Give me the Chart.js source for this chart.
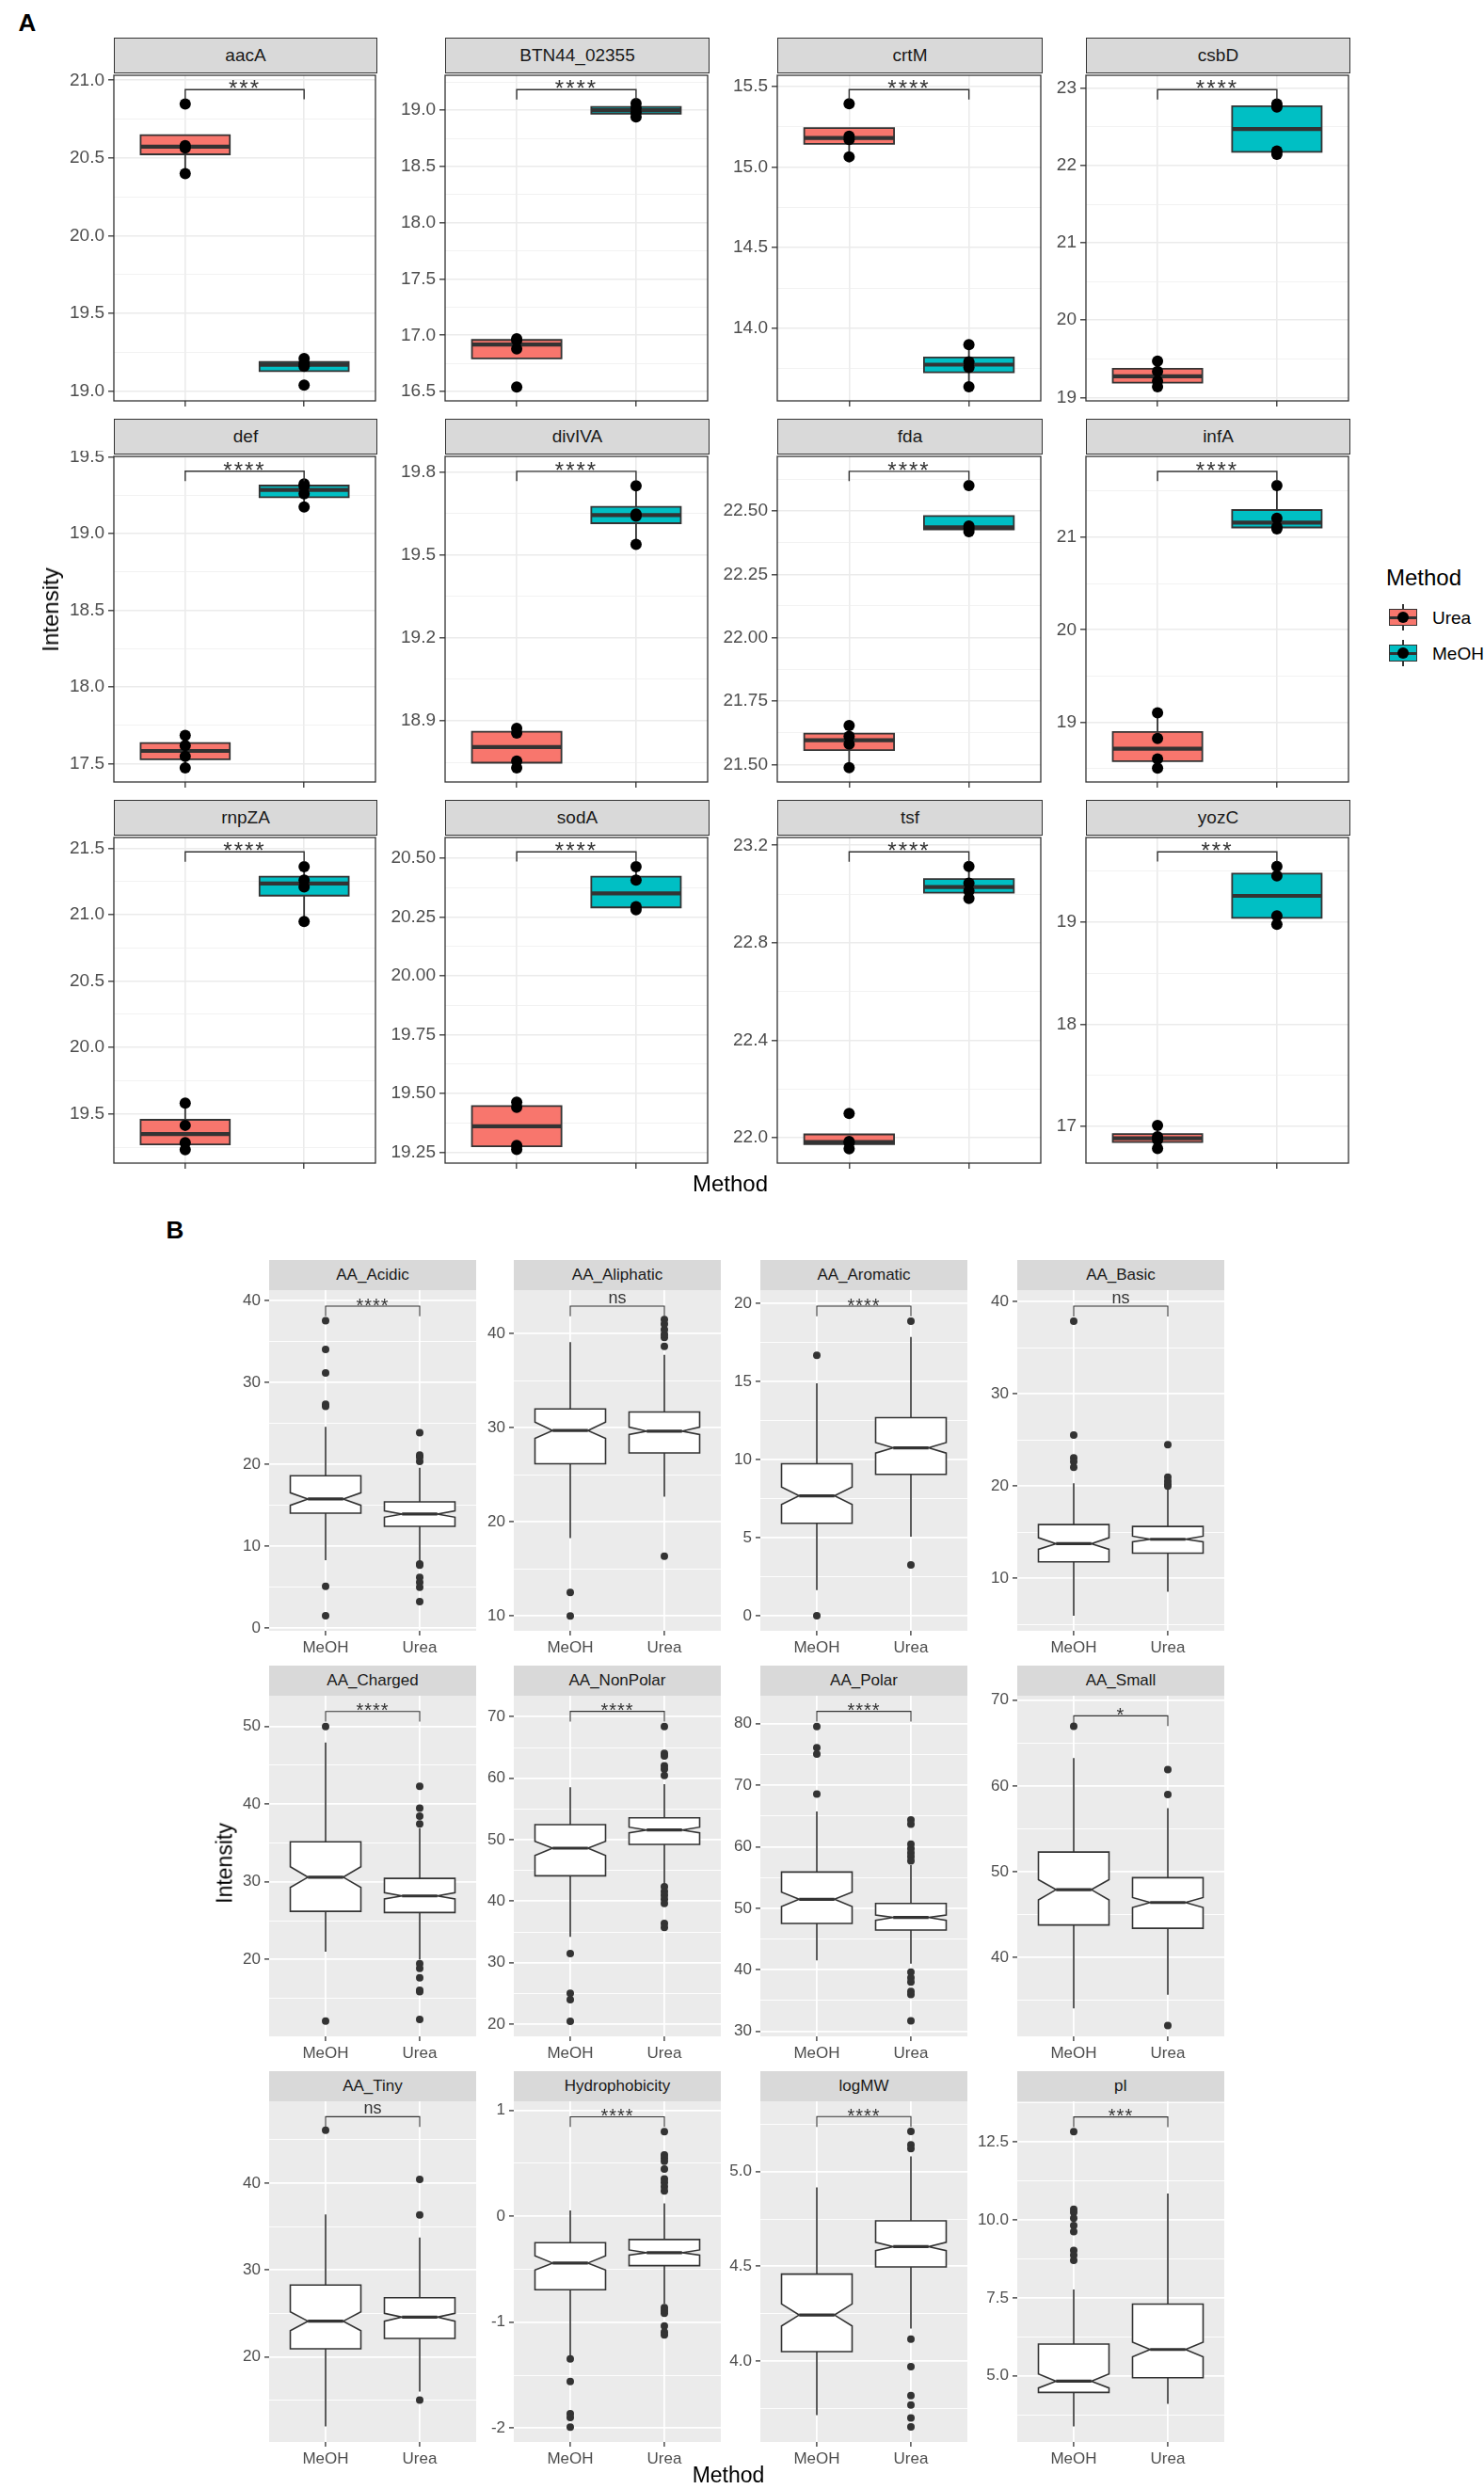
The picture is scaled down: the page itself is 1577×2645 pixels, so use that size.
<!DOCTYPE html>
<html>
<head>
<meta charset="utf-8">
<script src="https://cdn.jsdelivr.net/npm/chart.js@4.4.1/dist/chart.umd.min.js"></script>
<style>
  body { margin: 0; background: #fff; font-family: "Liberation Sans", Arial, sans-serif; }
  #page { position: relative; width: 1577px; height: 2645px; overflow: hidden; background: #fff; }
  .facet { position: absolute; }
  .strip { position: absolute; box-sizing: border-box; display: flex; align-items: center; justify-content: center; color: #1a1a1a; white-space: nowrap; }
  .lbl { position: absolute; white-space: nowrap; line-height: 1; }
</style>
</head>
<body>
<div id="page"></div>
<script>
// ---------- Panel A: single proteins, 4 replicates per method ----------
const geneNames = ['aacA', 'BTN44_02355', 'crtM', 'csbD', 'def', 'divIVA', 'fda', 'infA', 'rnpZA', 'sodA', 'tsf', 'yozC'];
const geneUrea = [
  [20.399, 20.565, 20.58, 20.847], [16.54, 16.88, 16.955, 16.97], [15.063, 15.17, 15.19, 15.392], [19.138, 19.21, 19.336, 19.47],
  [17.474, 17.549, 17.62, 17.685], [18.73, 18.755, 18.856, 18.873], [21.488, 21.58, 21.611, 21.654], [18.508, 18.606, 18.828, 19.104],
  [19.232, 19.285, 19.415, 19.582], [19.262, 19.279, 19.441, 19.463], [21.955, 21.98, 21.985, 22.10], [16.786, 16.87, 16.9, 17.012]
];
const geneMeoh = [
  [19.04, 19.16, 19.18, 19.21], [18.94, 18.98, 19.02, 19.06], [13.638, 13.758, 13.793, 13.899], [22.146, 22.19, 22.76, 22.798],
  [19.174, 19.26, 19.31, 19.325], [19.538, 19.64, 19.648, 19.75], [22.418, 22.43, 22.44, 22.60], [21.09, 21.11, 21.205, 21.556],
  [20.948, 21.208, 21.26, 21.361], [20.282, 20.295, 20.408, 20.465], [22.982, 23.013, 23.045, 23.113], [18.979, 19.061, 19.452, 19.543]
];
const geneYMin = [18.938, 16.417, 13.551, 18.955, 17.382, 18.679, 21.431, 18.357, 19.131, 19.2035, 21.896, 16.643];
const geneYMax = [21.032, 19.311, 15.568, 23.17, 19.504, 19.856, 22.715, 21.872, 21.58, 20.589, 23.232, 19.827];
const geneTicks = [
  ['19.0', '19.5', '20.0', '20.5', '21.0'], ['16.5', '17.0', '17.5', '18.0', '18.5', '19.0'], ['14.0', '14.5', '15.0', '15.5'], ['19', '20', '21', '22', '23'],
  ['17.5', '18.0', '18.5', '19.0', '19.5'], ['18.9', '19.2', '19.5', '19.8'], ['21.50', '21.75', '22.00', '22.25', '22.50'], ['19', '20', '21'],
  ['19.5', '20.0', '20.5', '21.0', '21.5'], ['19.25', '19.50', '19.75', '20.00', '20.25', '20.50'], ['22.0', '22.4', '22.8', '23.2'], ['17', '18', '19']
];
const geneSig = ['***', '****', '****', '****', '****', '****', '****', '****', '****', '****', '****', '***'];
const geneBracket = [20.94, 19.183, 15.479, 22.984, 19.407, 19.802, 22.656, 21.71, 21.472, 20.528, 23.173, 19.687];

// ---------- Panel B: protein features, notched boxes [lo, q1, median, q3, hi] ----------
const featNames = ['AA_Acidic', 'AA_Aliphatic', 'AA_Aromatic', 'AA_Basic', 'AA_Charged', 'AA_NonPolar', 'AA_Polar', 'AA_Small', 'AA_Tiny', 'Hydrophobicity', 'logMW', 'pI'];
const featMeohBox = [
  [8.31, 14.06, 15.79, 18.62, 24.6], [18.26, 26.16, 29.69, 31.99, 39.07], [1.64, 5.92, 7.68, 9.73, 14.88], [5.92, 11.77, 13.74, 15.82, 20.3],
  [21.0, 26.2, 30.6, 35.16, 47.94], [34.18, 44.13, 48.62, 52.45, 58.52], [41.53, 47.53, 51.46, 55.89, 65.73], [34.08, 43.8, 47.92, 52.3, 63.24],
  [12.02, 20.94, 24.12, 28.27, 36.39], [-1.315, -0.693, -0.441, -0.249, 0.056], [3.714, 4.05, 4.243, 4.459, 4.917], [3.38, 4.467, 4.829, 6.015, 7.77]
];
const featUreaBox = [
  [8.2, 12.45, 13.95, 15.44, 19.6], [22.66, 27.32, 29.63, 31.66, 37.74], [5.06, 9.05, 10.75, 12.68, 17.85], [8.54, 12.72, 14.22, 15.61, 19.6],
  [20.0, 26.06, 28.19, 30.44, 36.9], [42.8, 49.23, 51.58, 53.57, 59.03], [41.0, 46.46, 48.5, 50.79, 57.0], [35.68, 43.42, 46.42, 49.31, 57.41],
  [16.0, 22.13, 24.58, 26.82, 33.75], [-0.826, -0.465, -0.343, -0.219, 0.121], [4.172, 4.497, 4.604, 4.74, 5.08], [4.105, 4.94, 5.844, 7.30, 10.84]
];
const featMeohNotch = [
  [15.02, 16.55], [28.86, 30.59], [7.12, 8.24], [13.13, 14.39], [29.27, 31.94], [47.45, 49.74],
  [50.29, 52.63], [46.72, 49.09], [23.03, 25.2], [-0.506, -0.373], [4.185, 4.301], [4.61, 5.06]
];
const featUreaNotch = [
  [13.56, 14.33], [29.26, 30.06], [10.41, 11.09], [13.95, 14.56], [27.8, 28.6], [51.12, 52.04],
  [48.04, 48.9], [45.84, 47.0], [24.12, 25.02], [-0.367, -0.317], [4.583, 4.627], [5.61, 6.08]
];
const featMeohOut = [
  [37.55, 34.06, 31.19, 27.36, 27.09, 5.13, 1.53], [12.5, 10.0], [16.67, 0], [37.89, 25.54, 23.06, 22.65, 22.04],
  [50.0, 12.08], [31.48, 25.0, 23.98, 20.46], [79.54, 76.08, 75.06, 68.55], [66.96],
  [46.1], [-1.345, -1.56, -1.864, -1.9, -1.99], [], [12.83, 10.34, 10.24, 10.05, 9.82, 9.62, 9.02, 8.87, 8.70]
];
const featUreaOut = [
  [23.9, 21.15, 20.9, 20.38, 7.85, 7.7, 6.2, 5.6, 5.0, 3.26], [16.35, 38.64, 39.57, 39.9, 40.4, 41.0, 41.47], [18.86, 3.25], [24.49, 20.95, 20.54, 20.17, 20.0],
  [42.3, 39.47, 38.46, 37.45, 19.48, 18.87, 17.66, 16.05, 15.85, 12.3],
  [68.42, 64.03, 63.62, 62.0, 61.48, 60.46, 42.35, 41.58, 40.97, 40.31, 39.64, 36.38, 35.71],
  [64.37, 63.66, 60.4, 59.7, 59.0, 58.4, 57.7, 39.6, 38.7, 38.0, 36.5, 36.0, 31.7], [61.9, 59.0, 32.1],
  [40.43, 36.35, 15.05], [0.80, 0.58, 0.55, 0.52, 0.447, 0.352, 0.32, 0.28, 0.24, -0.862, -0.89, -0.915, -1.034, -1.093, -1.12],
  [5.212, 5.141, 5.121, 4.116, 3.97, 3.818, 3.768, 3.70, 3.652], []
];
const featYMin = [-0.31, 8.43, -0.96, 4.29, 10.11, 18.01, 29.18, 30.83, 10.22, -2.13, 3.573, 2.88];
const featYMax = [41.3, 44.6, 20.84, 41.26, 53.96, 73.42, 84.54, 70.51, 49.42, 1.086, 5.371, 13.8];
const featTicks = [
  ['0', '10', '20', '30', '40'], ['10', '20', '30', '40'], ['0', '5', '10', '15', '20'], ['10', '20', '30', '40'],
  ['20', '30', '40', '50'], ['20', '30', '40', '50', '60', '70'], ['30', '40', '50', '60', '70', '80'], ['40', '50', '60', '70'],
  ['20', '30', '40'], ['-2', '-1', '0', '1'], ['4.0', '4.5', '5.0'], ['5.0', '7.5', '10.0', '12.5']
];
const featSig = ['****', 'ns', '****', 'ns', '****', '****', '****', '*', 'ns', '****', '****', '***'];
const featBracket = [39.35, 42.9, 19.82, 39.52, 51.94, 70.87, 81.99, 68.17, 47.65, 0.94, 5.29, 13.3];

const methodColors = { Urea: '#F8766D', MeOH: '#00BFC4' };

// facet grid: [left, right] columns, [stripTop, panelTop, panelBottom] rows
const aCols = [[121, 401], [473, 754], [826, 1108], [1154, 1435]];
const aRows = [[40, 78, 426], [445, 483, 831], [850, 888, 1236]];
const bCols = [[286, 506], [546, 766], [808, 1028], [1081, 1301]];
const bRows = [[1339, 1371, 1733], [1770, 1802, 2164], [2201, 2233, 2595]];

const FONT = '"Liberation Sans", Arial, sans-serif';
const PAD_T = 4, PAD_R = 4;

const themeA = {
  panelFill: null, panelBorder: '#333333', gridMajor: '#EBEBEB', gridMinor: '#EFEFEF', gridMajorW: 1.6, gridMinorW: 0.8,
  tickSize: 19, tickLen: 6, yPad: 4, xPad: 0, boxLine: 1.8, medianLine: 4.2, bracketW: 1.4,
  sigSize: 24, starSpace: '2px', starLift: 7, strip: { background: '#D9D9D9', border: '1.4px solid #333333', fontSize: '19px' }
};
const themeB = {
  panelFill: '#EBEBEB', panelBorder: null, gridMajor: '#FFFFFF', gridMinor: '#FFFFFF', gridMajorW: 1.8, gridMinorW: 0.9,
  tickSize: 17, tickLen: 5, yPad: 4, xPad: 3, boxLine: 1.6, medianLine: 3.2, bracketW: 1.1,
  sigSize: 20, starSpace: '1px', starLift: 6, strip: { background: '#D9D9D9', fontSize: '17px' }
};

// R type-7 quantiles + Tukey whiskers, as geom_boxplot does
function quantile7(s, p) {
  const h = (s.length - 1) * p, lo = Math.floor(h);
  return s[lo] + (h - lo) * (s[Math.min(lo + 1, s.length - 1)] - s[lo]);
}
function boxStats(pts) {
  const s = [...pts].sort((a, b) => a - b);
  const q1 = quantile7(s, 0.25), med = quantile7(s, 0.5), q3 = quantile7(s, 0.75);
  const iqr = q3 - q1;
  const inside = s.filter(v => v >= q1 - 1.5 * iqr && v <= q3 + 1.5 * iqr);
  return [inside[0], q1, med, q3, inside[inside.length - 1]];
}

const panelPlugin = {
  id: 'panelBg',
  beforeDraw(chart, args, o) {
    if (!o.fill) return;
    const a = chart.chartArea, ctx = chart.ctx;
    ctx.save(); ctx.fillStyle = o.fill; ctx.fillRect(a.left, a.top, a.width, a.height); ctx.restore();
  },
  afterDraw(chart, args, o) {
    if (!o.border) return;
    const a = chart.chartArea, ctx = chart.ctx;
    ctx.save(); ctx.strokeStyle = o.border; ctx.lineWidth = 1.3;
    ctx.strokeRect(a.left, a.top, a.width, a.height); ctx.restore();
  }
};

const boxPlugin = {
  id: 'boxes',
  beforeDatasetsDraw(chart, args, o) {
    const { ctx, chartArea: a, scales: { x, y } } = chart;
    ctx.save();
    ctx.beginPath(); ctx.rect(a.left, a.top, a.width, a.height); ctx.clip();
    ctx.strokeStyle = o.stroke; ctx.lineJoin = 'miter';
    o.groups.forEach(g => {
      const cx = x.getPixelForValue(g.pos);
      const half = x.getPixelForValue(g.pos + o.width / 2) - cx;
      const [lo, q1, med, q3, hi] = g.stats.map(v => y.getPixelForValue(v));
      const L = cx - half, R = cx + half;
      ctx.lineWidth = o.lineW;
      ctx.beginPath(); ctx.moveTo(cx, lo); ctx.lineTo(cx, q1); ctx.moveTo(cx, q3); ctx.lineTo(cx, hi); ctx.stroke();
      let inset = 0;
      ctx.beginPath();
      if (g.notch) {
        const nLo = y.getPixelForValue(g.notch[0]), nHi = y.getPixelForValue(g.notch[1]);
        inset = half * 0.5;
        ctx.moveTo(L, q3); ctx.lineTo(R, q3); ctx.lineTo(R, nHi); ctx.lineTo(R - inset, med); ctx.lineTo(R, nLo);
        ctx.lineTo(R, q1); ctx.lineTo(L, q1); ctx.lineTo(L, nLo); ctx.lineTo(L + inset, med); ctx.lineTo(L, nHi);
        ctx.closePath();
      } else {
        ctx.rect(L, q3, 2 * half, q1 - q3);
      }
      ctx.fillStyle = g.fill; ctx.fill(); ctx.stroke();
      ctx.lineWidth = o.medianW;
      ctx.beginPath(); ctx.moveTo(L + inset, med); ctx.lineTo(R - inset, med); ctx.stroke();
    });
    ctx.restore();
  }
};

const bracketPlugin = {
  id: 'bracket',
  afterDatasetsDraw(chart, args, o) {
    const { ctx, chartArea: a, scales: { x, y } } = chart;
    const x1 = x.getPixelForValue(1), x2 = x.getPixelForValue(2);
    const yb = y.getPixelForValue(o.value);
    const tip = a.height * 0.03;
    ctx.save();
    ctx.strokeStyle = '#333333'; ctx.lineWidth = o.lineW;
    ctx.beginPath(); ctx.moveTo(x1, yb + tip); ctx.lineTo(x1, yb); ctx.lineTo(x2, yb); ctx.lineTo(x2, yb + tip); ctx.stroke();
    ctx.fillStyle = '#333333'; ctx.textAlign = 'center'; ctx.textBaseline = 'alphabetic';
    ctx.font = o.size + 'px ' + FONT;
    if (o.label === 'ns') {
      ctx.font = (o.size - 2) + 'px ' + FONT;
      ctx.fillText(o.label, (x1 + x2) / 2, yb - 3);
    } else {
      ctx.letterSpacing = o.space;
      ctx.fillText(o.label, (x1 + x2) / 2, yb - o.starLift + 0.58 * o.size);
    }
    ctx.restore();
  }
};

const page = document.getElementById('page');

function addText(txt, css) {
  const d = document.createElement('div');
  d.className = 'lbl';
  d.textContent = txt;
  Object.assign(d.style, css);
  page.appendChild(d);
  return d;
}

function pointSet(pos, values, radius, color) {
  return {
    data: values.map(v => ({ x: pos, y: v })),
    pointRadius: radius, pointBackgroundColor: color, pointBorderWidth: 0, showLine: false, clip: false
  };
}

function drawFacet(f) {
  const [L, T, R, B] = f.panel;
  const th = f.theme;
  const W = R - L, H = B - T;
  const wrap = document.createElement('div');
  wrap.className = 'facet';
  Object.assign(wrap.style, {
    left: (L - f.yAxisW) + 'px', top: (T - PAD_T) + 'px',
    width: (W + f.yAxisW + PAD_R) + 'px', height: (H + PAD_T + f.xAxisH) + 'px'
  });
  const cv = document.createElement('canvas');
  wrap.appendChild(cv);
  page.appendChild(wrap);

  const strip = document.createElement('div');
  strip.className = 'strip';
  strip.textContent = f.name;
  Object.assign(strip.style, { left: L + 'px', top: f.stripTop + 'px', width: W + 'px', height: (T - f.stripTop) + 'px' }, th.strip);
  page.appendChild(strip);

  const majors = f.ticks.map(Number);
  const step = majors[1] - majors[0];
  const minors = [...majors.map(v => v - step / 2), majors[majors.length - 1] + step / 2]
    .filter(v => v >= f.yMin && v <= f.yMax);
  const gridVals = [...majors, ...minors].sort((a, b) => a - b);
  const isMajor = v => majors.some(m => Math.abs(m - v) < Math.abs(step) * 1e-6);
  const major = c => c.tick && isMajor(c.tick.value);

  new Chart(cv, {
    type: 'scatter',
    data: { datasets: f.points },
    options: {
      responsive: true, maintainAspectRatio: false, animation: false, events: [],
      layout: { padding: { top: PAD_T, right: PAD_R, left: 0, bottom: 0 } },
      plugins: {
        legend: { display: false }, tooltip: { enabled: false },
        panelBg: { fill: th.panelFill, border: th.panelBorder },
        boxes: { groups: f.groups, width: 0.75, lineW: th.boxLine, medianW: th.medianLine, stroke: '#333333' },
        bracket: { value: f.bracket, label: f.sig, size: th.sigSize, space: th.starSpace, starLift: th.starLift, lineW: th.bracketW }
      },
      scales: {
        x: {
          type: 'linear', min: 0.4, max: 2.6,
          afterBuildTicks: s => { s.ticks = [{ value: 1 }, { value: 2 }]; },
          afterFit: s => { s.height = f.xAxisH; s.paddingLeft = 0; s.paddingRight = 0; },
          ticks: {
            autoSkip: false, maxRotation: 0, padding: th.xPad, color: '#4D4D4D',
            font: { family: FONT, size: th.tickSize },
            callback: v => f.xLabels[Math.round(v) - 1] || ''
          },
          grid: { color: th.gridMajor, lineWidth: th.gridMajorW, drawTicks: true, tickLength: th.tickLen, tickColor: '#333333', tickWidth: 1.3 },
          border: { display: false }
        },
        y: {
          type: 'linear', min: f.yMin, max: f.yMax,
          afterBuildTicks: s => { s.ticks = gridVals.map(v => ({ value: v })); },
          afterFit: s => { s.width = f.yAxisW; s.paddingTop = 0; s.paddingBottom = 0; },
          ticks: {
            autoSkip: false, padding: th.yPad, color: '#4D4D4D',
            font: { family: FONT, size: th.tickSize },
            callback: v => {
              const k = majors.findIndex(m => Math.abs(m - v) < Math.abs(step) * 1e-6);
              return k < 0 ? '' : f.ticks[k];
            }
          },
          grid: {
            color: c => major(c) ? th.gridMajor : th.gridMinor,
            lineWidth: c => major(c) ? th.gridMajorW : th.gridMinorW,
            drawTicks: true, tickLength: th.tickLen,
            tickColor: c => major(c) ? '#333333' : 'rgba(0,0,0,0)', tickWidth: 1.3
          },
          border: { display: false }
        }
      }
    },
    plugins: [panelPlugin, boxPlugin, bracketPlugin]
  });
}

// ---------- build panel A ----------
geneNames.forEach((name, i) => {
  const col = aCols[i % 4], row = aRows[Math.floor(i / 4)];
  drawFacet({
    name, panel: [col[0], row[1], col[1], row[2]], stripTop: row[0],
    yMin: geneYMin[i], yMax: geneYMax[i], ticks: geneTicks[i], sig: geneSig[i], bracket: geneBracket[i],
    xLabels: ['', ''], yAxisW: 72, xAxisH: 16, theme: themeA,
    groups: [
      { pos: 1, stats: boxStats(geneUrea[i]), fill: methodColors.Urea },
      { pos: 2, stats: boxStats(geneMeoh[i]), fill: methodColors.MeOH }
    ],
    points: [pointSet(1, geneUrea[i], 6, '#000000'), pointSet(2, geneMeoh[i], 6, '#000000')]
  });
});

// ---------- build panel B ----------
featNames.forEach((name, i) => {
  const col = bCols[i % 4], row = bRows[Math.floor(i / 4)];
  drawFacet({
    name, panel: [col[0], row[1], col[1], row[2]], stripTop: row[0],
    yMin: featYMin[i], yMax: featYMax[i], ticks: featTicks[i], sig: featSig[i], bracket: featBracket[i],
    xLabels: ['MeOH', 'Urea'], yAxisW: 60, xAxisH: 34, theme: themeB,
    groups: [
      { pos: 1, stats: featMeohBox[i], notch: featMeohNotch[i], fill: '#FFFFFF' },
      { pos: 2, stats: featUreaBox[i], notch: featUreaNotch[i], fill: '#FFFFFF' }
    ],
    points: [pointSet(1, featMeohOut[i], 4, '#333333'), pointSet(2, featUreaOut[i], 4, '#333333')]
  });
});

// ---------- titles, labels, legend ----------
const center = 'translate(-50%, -50%)';
addText('A', { left: '29px', top: '24px', transform: center, fontSize: '26px', fontWeight: 'bold', color: '#000' });
addText('B', { left: '186px', top: '1307px', transform: center, fontSize: '26px', fontWeight: 'bold', color: '#000' });
addText('Intensity', { left: '54px', top: '648px', transform: center + ' rotate(-90deg)', fontSize: '24px', color: '#000' });
addText('Method', { left: '776px', top: '1258px', transform: center, fontSize: '24px', color: '#000' });
addText('Intensity', { left: '239px', top: '1980px', transform: center + ' rotate(-90deg)', fontSize: '23px', color: '#000' });
addText('Method', { left: '774px', top: '2630px', transform: center, fontSize: '23px', color: '#000' });

addText('Method', { left: '1473px', top: '614px', transform: 'translateY(-50%)', fontSize: '24px', color: '#000' });
[['Urea', 656], ['MeOH', 694]].forEach(([m, cy]) => {
  const key = document.createElement('div');
  Object.assign(key.style, { position: 'absolute', left: '1476px', top: (cy - 17) + 'px', width: '30px', height: '34px' });
  key.innerHTML =
    '<div style="position:absolute;left:14px;top:3px;width:2px;height:28px;background:#333"></div>' +
    '<div style="position:absolute;left:0;top:8px;width:30px;height:18px;box-sizing:border-box;border:1.5px solid #333;background:' + methodColors[m] + '"></div>' +
    '<div style="position:absolute;left:0;top:15.5px;width:30px;height:3px;background:#333"></div>' +
    '<div style="position:absolute;left:9px;top:11px;width:12px;height:12px;border-radius:50%;background:#000"></div>';
  page.appendChild(key);
  addText(m, { left: '1522px', top: cy + 'px', transform: 'translateY(-50%)', fontSize: '19px', color: '#000' });
});
</script>
</body>
</html>
